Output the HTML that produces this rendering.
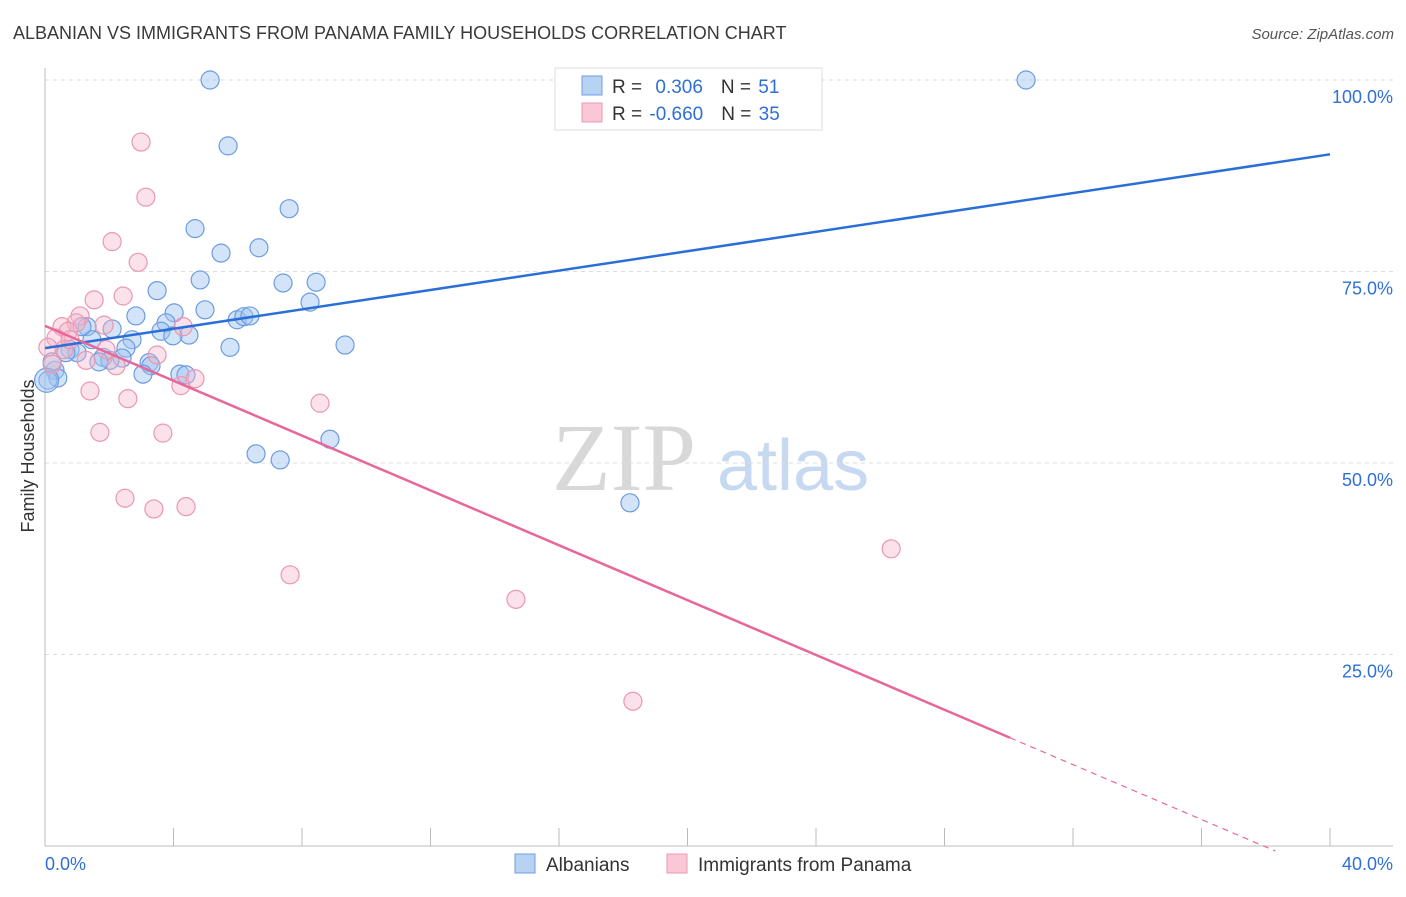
<!DOCTYPE html>
<html><head><meta charset="utf-8"><style>
body{margin:0;background:#fff;font-family:"Liberation Sans",sans-serif}
</style></head><body>
<svg id="chart" width="1406" height="892" xmlns="http://www.w3.org/2000/svg" font-family="Liberation Sans, sans-serif">
<text x="13" y="39" font-size="18" fill="#3a3a3a">ALBANIAN VS IMMIGRANTS FROM PANAMA FAMILY HOUSEHOLDS CORRELATION CHART</text>
<text x="1394" y="39" font-size="15" fill="#555" text-anchor="end" font-style="italic">Source: ZipAtlas.com</text>
<g>
<text x="552" y="490" font-size="96" fill="#d8d8d8" font-family="Liberation Serif, serif">ZIP</text>
<text x="717" y="490" font-size="72" fill="#c6d9f0">atlas</text>
</g>
<g id="grid"></g>
<g id="axes"></g>
<g id="points"></g>
<g id="trends"></g>
<text transform="translate(34,456) rotate(-90)" font-size="18" fill="#333" text-anchor="middle">Family Households</text>
<g>
<rect x="555" y="68" width="267" height="62" fill="#fff" stroke="#ddd"/>
<rect x="582" y="76" width="20" height="19" fill="#b8d2f4" stroke="#6f9fe0"/>
<rect x="582" y="103" width="20" height="19" fill="#f9c7d5" stroke="#ec98b0"/>
<text x="612" y="93" font-size="19" fill="#333">R = <tspan fill="#2f6fd6" dx="8">0.306</tspan><tspan dx="18" fill="#333">N = </tspan><tspan fill="#2f6fd6" dx="2">51</tspan></text>
<text x="612" y="120" font-size="19" fill="#333">R = <tspan fill="#2f6fd6" dx="2">-0.660</tspan><tspan dx="18" fill="#333">N = </tspan><tspan fill="#2f6fd6" dx="2">35</tspan></text>
</g>
<g>
<rect x="515" y="854" width="20" height="19" fill="#b8d2f4" stroke="#6f9fe0"/>
<text x="546" y="871" font-size="19" fill="#333">Albanians</text>
<rect x="667" y="854" width="20" height="19" fill="#f9c7d5" stroke="#ec98b0"/>
<text x="698" y="871" font-size="19" fill="#333">Immigrants from Panama</text>
</g>
</svg>
<script>
const albX=[5.14,30.54,5.70,7.60,4.67,6.66,5.48,4.83,7.41,8.44,3.49,8.25,4.98,4.02,2.83,5.98,6.19,6.38,3.77,3.61,2.09,1.31,4.48,3.98,2.71,1.46,9.34,5.76,2.52,0.78,1.00,1.81,2.40,2.02,1.68,3.24,3.30,3.05,4.20,4.39,0.31,0.40,0.09,8.87,6.57,7.32,18.21,0.22,0.65,1.15,0.05];
const albY=[100,100,91.4,83.2,80.6,78.1,77.4,73.9,73.5,73.6,72.5,71.0,70.0,69.6,69.2,68.7,69.1,69.2,68.3,67.2,67.5,67.8,66.7,66.6,66.1,66.1,65.4,65.1,65.0,64.8,64.4,63.8,63.7,63.4,63.2,63.1,62.7,61.6,61.6,61.5,62.1,61.1,60.8,53.1,51.2,50.4,44.8,63.2,64.4,67.8,60.8];
const panX=[2.99,3.14,2.09,2.90,2.43,1.53,1.09,1.84,0.97,0.53,0.72,4.30,0.34,0.09,0.59,1.90,3.49,1.28,2.21,0.22,4.67,4.23,1.40,2.58,8.56,1.71,3.67,2.49,4.39,3.39,7.63,14.66,26.34,18.30,0.78];
const panY=[91.9,84.7,78.9,76.2,71.8,71.3,69.2,68.0,68.3,67.8,67.2,67.8,66.3,65.1,64.8,64.8,64.1,63.4,62.7,62.9,61.0,60.1,59.4,58.4,57.8,54.0,53.9,45.4,44.3,44.0,35.4,32.2,38.8,18.9,66.1];
const albTrend=[65.0,90.3];      // y at x=0 and x=40
const panTrend=[67.9,-1.79,30.04,38.3]; // intercept, slope, solid end x, dashed end x
const xTicks=[0,4,8,12,16,20,24,28,32,36,40];
const yTicks=[25,50,75,100];
const yTickLabels=["25.0%","50.0%","75.0%","100.0%"];
const xLabels=["0.0%","40.0%"];

const NS="http://www.w3.org/2000/svg";
const xs=v=>45+v/40*1285;
const ys=v=>846-v/100*766;
function mk(tag,attrs,parent){const e=document.createElementNS(NS,tag);for(const k in attrs)e.setAttribute(k,attrs[k]);document.getElementById(parent).appendChild(e);return e;}

yTicks.forEach((t,i)=>{
  const g=mk('line',{x1:45,x2:1393,y1:ys(t),y2:ys(t),stroke:'#ddd','stroke-dasharray':'4,4'},'grid');
  
  
  const l=mk('text',{x:1393,y:ys(t)+23,'font-size':18,fill:'#2f6fd6','text-anchor':'end'},'axes');
  l.textContent=yTickLabels[i];
  
  
});
const ax=mk('line',{x1:45,x2:45,y1:68,y2:846,stroke:'#bbb'},'axes');


const bx=mk('line',{x1:45,x2:1393,y1:846,y2:846,stroke:'#bbb'},'axes');


xTicks.forEach(t=>{
  const tk=mk('line',{x1:xs(t),x2:xs(t),y1:828,y2:846,stroke:'#bbb'},'axes');
  
  
});
[[0,'start',45],[40,'end',1393]].forEach((d,i)=>{
  const l=mk('text',{x:d[2],y:870,'font-size':18,fill:'#2f6fd6','text-anchor':d[1]},'axes');
  l.textContent=xLabels[i];
  
  
});
albX.forEach((x,i)=>{
  const c=mk('circle',{cx:xs(x),cy:ys(albY[i]),r:i===albX.length-1?12:9,fill:'rgba(160,195,240,0.45)',stroke:'#6b9ce0','stroke-width':1.2},'points');
  
  
});
panX.forEach((x,i)=>{
  const c=mk('circle',{cx:xs(x),cy:ys(panY[i]),r:9,fill:'rgba(245,180,200,0.4)',stroke:'#eb97b0','stroke-width':1.2},'points');
  
  
});
const bl=mk('line',{x1:xs(0),y1:ys(albTrend[0]),x2:xs(40),y2:ys(albTrend[1]),stroke:'#2a6fd8','stroke-width':2.5},'trends');


const pe=panTrend[2], pd=panTrend[3];
const pl=mk('line',{x1:xs(0),y1:ys(panTrend[0]),x2:xs(pe),y2:ys(panTrend[0]+panTrend[1]*pe),stroke:'#e8679a','stroke-width':2.5},'trends');


const pdl=mk('line',{x1:xs(pe),y1:ys(panTrend[0]+panTrend[1]*pe),x2:xs(pd),y2:ys(panTrend[0]+panTrend[1]*pd),stroke:'#e8679a','stroke-width':1.2,'stroke-dasharray':'6,5'},'trends');


</script>
</body></html>
